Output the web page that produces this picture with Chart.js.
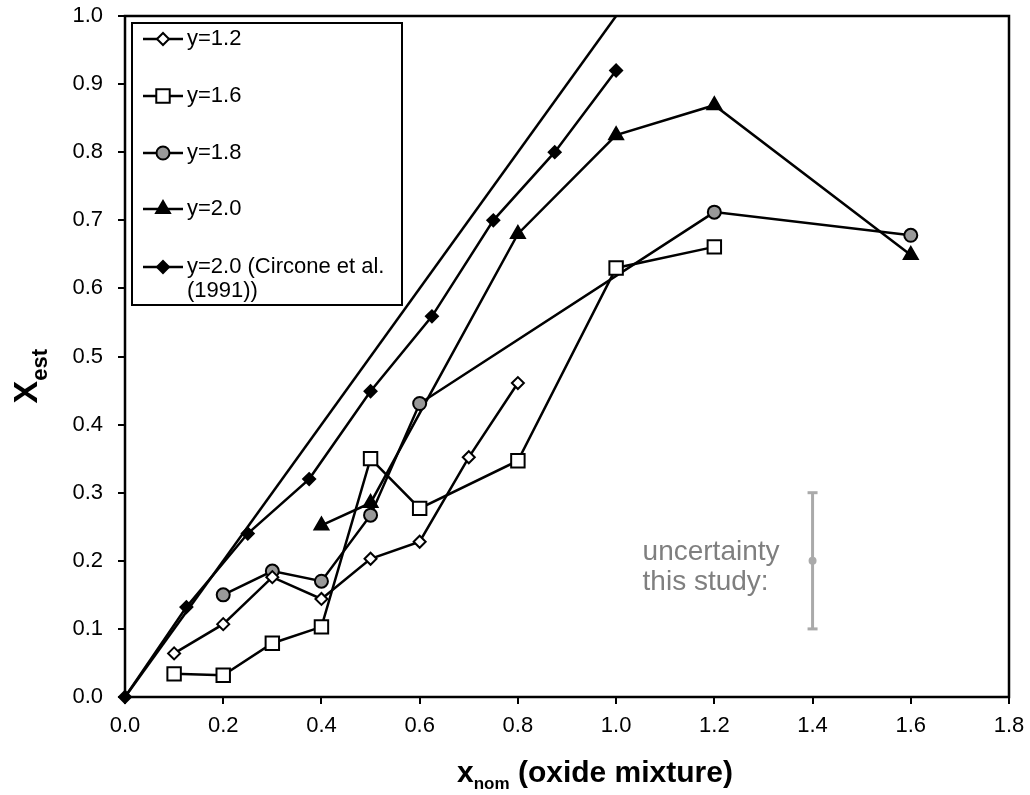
<!DOCTYPE html>
<html>
<head>
<meta charset="utf-8">
<script src="https://cdn.jsdelivr.net/npm/chart.js@4/dist/chart.umd.min.js"></script>
<style>
  body { margin: 0; background: #fff; }
  #wrap { width: 1030px; height: 795px; }
</style>
</head>
<body>
<div id="wrap"><canvas id="xChart" width="1030" height="795"></canvas></div>
<script>
const FONT = "Arial, 'Liberation Sans', sans-serif";
const C_GREY = '#999999';
const C_ERR = '#aaaaaa';
const C_TEXT_GREY = '#7f7f7f';

// x_nom / X_est readings
const X_12 = [0.1, 0.2, 0.3, 0.4, 0.5, 0.6, 0.7, 0.8];
const Y_12 = [0.064, 0.107, 0.176, 0.144, 0.203, 0.228, 0.352, 0.461];
const X_16 = [0.1, 0.2, 0.3, 0.4, 0.5, 0.6, 0.8, 1.0, 1.2];
const Y_16 = [0.034, 0.032, 0.079, 0.103, 0.35, 0.277, 0.347, 0.63, 0.661];
const X_18 = [0.2, 0.3, 0.4, 0.5, 0.6, 1.2, 1.6];
const Y_18 = [0.15, 0.185, 0.17, 0.267, 0.431, 0.712, 0.678];
const X_20 = [0.4, 0.5, 0.8, 1.0, 1.2, 1.6];
const Y_20 = [0.252, 0.285, 0.68, 0.825, 0.869, 0.649];
const X_CIRC = [0, 0.125, 0.25, 0.375, 0.5, 0.625, 0.75, 0.875, 1.0];
const Y_CIRC = [0, 0.132, 0.24, 0.32, 0.449, 0.559, 0.70, 0.80, 0.92];
const X_ONE = [0, 1.0];
const Y_ONE = [0, 1.0];
const X_ERR = [1.4, 1.4, 1.4];
const Y_ERR = [0.1, 0.2, 0.3];

const LEGEND_LABELS = ['y=1.2', 'y=1.6', 'y=1.8', 'y=2.0', ['y=2.0 (Circone et al.', '(1991))']];
const ERR_LABEL = ['uncertainty', 'this study:'];

function pts(xs, ys) {
    return xs.map((x, i) => ({x: x, y: ys[i]}));
}

function series(label, xs, ys, style, radius, fill) {
    return {
        label: label,
        data: pts(xs, ys),
        showLine: true,
        borderColor: '#000',
        borderWidth: 2.5,
        pointStyle: style,
        pointRadius: radius,
        pointBackgroundColor: fill,
        pointBorderColor: '#000',
        pointBorderWidth: 2,
        clip: false,
    };
}

const datasets = [
    series('y=1.2', X_12, Y_12, 'rectRot', 6, '#fff'),
    series('y=1.6', X_16, Y_16, 'rect', 9.5, '#fff'),
    series('y=1.8', X_18, Y_18, 'circle', 6.5, C_GREY),
    series('y=2.0', X_20, Y_20, 'triangle', 8, '#000'),
    series('y=2.0 (Circone et al. (1991))', X_CIRC, Y_CIRC, 'rectRot', 6, '#000'),
    {
        label: '1:1',
        data: pts(X_ONE, Y_ONE),
        showLine: true,
        borderColor: '#000',
        borderWidth: 2.5,
        pointRadius: 0,
        clip: false,
    },
    {
        label: 'uncertainty',
        data: pts(X_ERR, Y_ERR),
        showLine: true,
        borderColor: C_ERR,
        borderWidth: 3,
        pointStyle: ['line', 'circle', 'line'],
        pointRadius: [5, 2.5, 5],
        pointBackgroundColor: C_ERR,
        pointBorderColor: C_ERR,
        pointBorderWidth: 3,
        clip: false,
    },
];

// frame, legend box, axis titles, uncertainty note
const decorPlugin = {
    id: 'decor',
    afterDatasetsDraw(chart) {
        const ctx = chart.ctx;
        const a = chart.chartArea;
        const xs = chart.scales.x;
        const ys = chart.scales.y;
        ctx.save();

        ctx.strokeStyle = '#000';
        ctx.lineWidth = 2.5;
        ctx.strokeRect(a.left, a.top, a.right - a.left, a.bottom - a.top);

        // legend
        const lx = a.left + 7, ly = a.top + 7;
        ctx.fillStyle = '#fff';
        ctx.fillRect(lx, ly, 270, 282);
        ctx.lineWidth = 2;
        ctx.strokeRect(lx, ly, 270, 282);
        const rows = [16, 73, 130, 186, 244];
        ctx.font = '22px ' + FONT;
        ctx.textBaseline = 'middle';
        ctx.textAlign = 'left';
        for (let i = 0; i < 5; i++) {
            const ds = chart.data.datasets[i];
            const y = ly + rows[i];
            ctx.strokeStyle = '#000';
            ctx.lineWidth = 2.5;
            ctx.beginPath();
            ctx.moveTo(lx + 11, y);
            ctx.lineTo(lx + 51, y);
            ctx.stroke();
            ctx.fillStyle = ds.pointBackgroundColor;
            ctx.strokeStyle = '#000';
            ctx.lineWidth = 2;
            Chart.helpers.drawPoint(ctx, {
                pointStyle: ds.pointStyle,
                radius: ds.pointRadius,
                rotation: 0,
                borderWidth: 2,
            }, lx + 31, y);
            ctx.fillStyle = '#000';
            const lab = LEGEND_LABELS[i];
            if (Array.isArray(lab)) {
                ctx.fillText(lab[0], lx + 55, y);
                ctx.fillText(lab[1], lx + 55, y + 24);
            } else {
                ctx.fillText(lab, lx + 55, y);
            }
        }

        // uncertainty note
        ctx.fillStyle = C_TEXT_GREY;
        ctx.font = '28px ' + FONT;
        const ex = xs.getPixelForValue(X_ERR[1]) - 170;
        const ey = ys.getPixelForValue(Y_ERR[1]);
        ctx.fillText(ERR_LABEL[0], ex, ey - 9);
        ctx.fillText(ERR_LABEL[1], ex, ey + 21);

        // x title with subscript
        ctx.fillStyle = '#000';
        ctx.textBaseline = 'alphabetic';
        const big = 'bold 30px ' + FONT, small = 'bold 17px ' + FONT;
        ctx.font = big;
        const w1 = ctx.measureText('x').width;
        const w3 = ctx.measureText(' (oxide mixture)').width;
        ctx.font = small;
        const w2 = ctx.measureText('nom').width;
        let tx = (a.left + a.right) / 2 + 28 - (w1 + w2 + w3) / 2;
        ctx.font = big;
        ctx.fillText('x', tx, 782);
        ctx.font = small;
        ctx.fillText('nom', tx + w1, 789);
        ctx.font = big;
        ctx.fillText(' (oxide mixture)', tx + w1 + w2, 782);

        // y title with subscript
        ctx.translate(37, (a.top + a.bottom) / 2 + 47);
        ctx.rotate(-Math.PI / 2);
        ctx.font = 'bold 34px ' + FONT;
        ctx.fillText('X', 0, 0);
        const wx = ctx.measureText('X').width;
        ctx.font = 'bold 22px ' + FONT;
        ctx.fillText('est', wx, 10);

        ctx.restore();
    }
};

const xChart = new Chart(
        document.getElementById('xChart'),
        {
            type: 'scatter',
            data: { datasets: datasets },
            options: {
                responsive: false,
                animation: false,
                layout: { padding: { top: 16, right: 21, left: 0, bottom: 0 } },
                plugins: {
                    legend: { display: false },
                    tooltip: { enabled: false },
                },
                scales: {
                    x: {
                        type: 'linear',
                        min: 0,
                        max: 1.8,
                        afterFit: (s) => {
                            s.height = 98;
                            s.paddingLeft = 0;
                            s.paddingRight = 0;
                        },
                        ticks: {
                            stepSize: 0.2,
                            color: '#000',
                            padding: 9,
                            font: { family: FONT, size: 22 },
                            callback: (v) => v.toFixed(1),
                        },
                        grid: {
                            drawOnChartArea: false,
                            drawTicks: true,
                            tickLength: 7,
                            color: '#000',
                            lineWidth: 2,
                        },
                        border: { display: false },
                    },
                    y: {
                        type: 'linear',
                        min: 0,
                        max: 1.0,
                        afterFit: (s) => {
                            s.width = 125;
                            s.paddingTop = 0;
                            s.paddingBottom = 0;
                        },
                        ticks: {
                            stepSize: 0.1,
                            color: '#000',
                            padding: 15,
                            font: { family: FONT, size: 22 },
                            callback: (v) => v.toFixed(1),
                        },
                        grid: {
                            drawOnChartArea: false,
                            drawTicks: true,
                            tickLength: 7,
                            color: '#000',
                            lineWidth: 2,
                        },
                        border: { display: false },
                    },
                },
            },
            plugins: [decorPlugin],
        });
</script>
</body>
</html>
